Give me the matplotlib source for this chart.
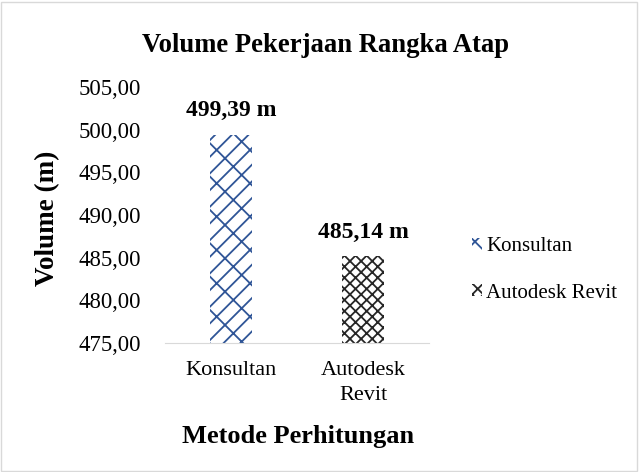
import matplotlib
matplotlib.use("Agg")
import matplotlib.pyplot as plt
from matplotlib.patches import Patch, Rectangle

categories = ["Konsultan", "Autodesk\nRevit"]
series_names = ["Konsultan", "Autodesk Revit"]
values = [499.39, 485.14]
value_labels = ["499,39 m", "485,14 m"]
yticks = [475, 480, 485, 490, 495, 500, 505]
ytick_labels = ["475,00", "480,00", "485,00", "490,00", "495,00", "500,00", "505,00"]

plt.rcParams["font.family"] = ["Liberation Serif", "DejaVu Serif"]
plt.rcParams["hatch.linewidth"] = 1.3

W, H = 639, 472
fig = plt.figure(figsize=(W / 100, H / 100), dpi=100)
ax = fig.add_axes([165 / W, 1 - 343 / H, 264 / W, 256 / H])

colors = ["#2F5597", "#262626"]
hatches = ["//\\", "xxx"]
x = [0, 1]
bars = ax.bar(x, [v - 475 for v in values], bottom=475, width=0.32,
              color="white", edgecolor=colors, linewidth=0)
for b, h in zip(bars, hatches):
    b.set_hatch(h)

for xi, v, lab in zip(x, values, value_labels):
    ax.annotate(lab, (xi, v), xytext=(0, 10), textcoords="offset points",
                ha="center", va="bottom", fontsize=17, fontweight="bold")

ax.set_xlim(-0.5, 1.5)
ax.set_ylim(475, 505)
ax.set_yticks(yticks)
ax.set_yticklabels(ytick_labels, fontsize=16.4)
ax.set_xticks(x)
ax.set_xticklabels(categories, fontsize=16, linespacing=1.4)
ax.tick_params(axis="y", length=0, pad=17.5)
ax.tick_params(axis="x", length=0, pad=13)
for s in ["top", "right", "left"]:
    ax.spines[s].set_visible(False)
ax.spines["bottom"].set_color("#D9D9D9")

fig.text(326 / W, 1 - 45 / H, "Volume Pekerjaan Rangka Atap", ha="center",
         va="center", fontsize=19.2, fontweight="bold")
fig.text(48 / W, 1 - 218 / H, "Volume (m)", ha="center", va="center",
         rotation=90, fontsize=19.5, fontweight="bold")
fig.text(298 / W, 1 - 437 / H, "Metode Perhitungan", ha="center",
         va="center", fontsize=19, fontweight="bold")

handles = [Patch(facecolor="white", edgecolor=c, hatch=h, linewidth=0)
           for c, h in zip(colors, hatches)]
fig.legend(handles, series_names, loc="center left",
           bbox_to_anchor=(453 / W, 1 - 270 / H), frameon=False, fontsize=15,
           handlelength=0.5, handleheight=0.5, handletextpad=0.2,
           labelspacing=1.3)

fig.patches.append(Rectangle((1 / W, 1 / H), 1 - 3 / W, 1 - 3 / H,
                             transform=fig.transFigure, fill=False,
                             edgecolor="#D9D9D9", linewidth=1))

fig.savefig("out.png", dpi=100)
